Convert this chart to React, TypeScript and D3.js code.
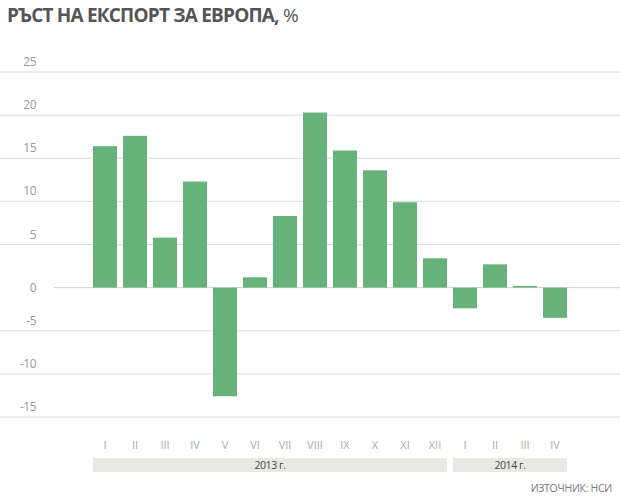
import React from "react";
import * as d3 from "d3";

const months = ["I","II","III","IV","V","VI","VII","VIII","IX","X","XI","XII","I","II","III","IV"];
const keys = months.map((m, i) => `${i}`);
const values = [16.4, 17.6, 5.8, 12.3, -12.6, 1.2, 8.3, 20.3, 15.9, 13.6, 9.9, 3.4, -2.4, 2.7, 0.2, -3.5];
const yTicks = [25, 20, 15, 10, 5, 0, -5, -10, -15];
const years = [
  { label: "2013 г.", from: 0, to: 11 },
  { label: "2014 г.", from: 12, to: 15 },
];

export default function App() {
  const W = 620, H = 496;
  const x = d3.scaleBand().domain(keys).range([90, 570]).paddingInner(0.2).paddingOuter(0.1);
  const y = d3.scaleLinear().domain([-15, 25]).range([417, 72]);
  const bw = x.bandwidth();
  return (
    <svg width={W} height={H} style={{ position: "absolute", left: 0, top: 0 }}>
      <rect width={W} height={H} fill="#fff" />
      <text x={7} y={22} fontFamily="Open Sans, Lato, sans-serif" fontSize={19} fontWeight={700} fill="#555" letterSpacing={-0.8}>
        РЪСТ НА ЕКСПОРТ ЗА ЕВРОПА, <tspan fontWeight={400}>%</tspan>
      </text>
      {yTicks.map((t) => (
        <g key={t}>
          <line x1={t === 0 ? 54 : 0} x2={W} y1={y(t)} y2={y(t)} stroke={t === 0 ? "#d0d0d0" : "#dcdcdc"} strokeWidth={1} />
          <text x={36} y={t === 0 ? y(t) + 4 : y(t) - 6} textAnchor="end" fontFamily="Open Sans, sans-serif" fontSize={12} fill="#999" letterSpacing={-0.5}>
            {t}
          </text>
        </g>
      ))}
      {values.map((v, i) => (
        <rect key={i} x={x(keys[i])} width={bw} y={y(Math.max(0, v))} height={Math.abs(y(v) - y(0))} fill="#66b27a" />
      ))}
      {months.map((m, i) => (
        <text key={i} x={(x(keys[i]) as number) + bw / 2} y={449} textAnchor="middle" fontFamily="Open Sans, sans-serif" fontSize={11} fill="#aaa">
          {m}
        </text>
      ))}
      {years.map((yr) => {
        const x0 = x(keys[yr.from]) as number;
        const x1 = (x(keys[yr.to]) as number) + bw;
        return (
          <g key={yr.label}>
            <rect x={x0} width={x1 - x0} y={458} height={14} fill="#e9e9e3" />
            <text x={(x0 + x1) / 2} y={469} textAnchor="middle" fontFamily="Open Sans, sans-serif" fontSize={10.5} fill="#444" letterSpacing={-0.4}>
              {yr.label}
            </text>
          </g>
        );
      })}
      <text x={612} y={492} textAnchor="end" fontFamily="Open Sans, sans-serif" fontSize={10.5} fill="#777" letterSpacing={-0.3}>
        ИЗТОЧНИК: НСИ
      </text>
    </svg>
  );
}
